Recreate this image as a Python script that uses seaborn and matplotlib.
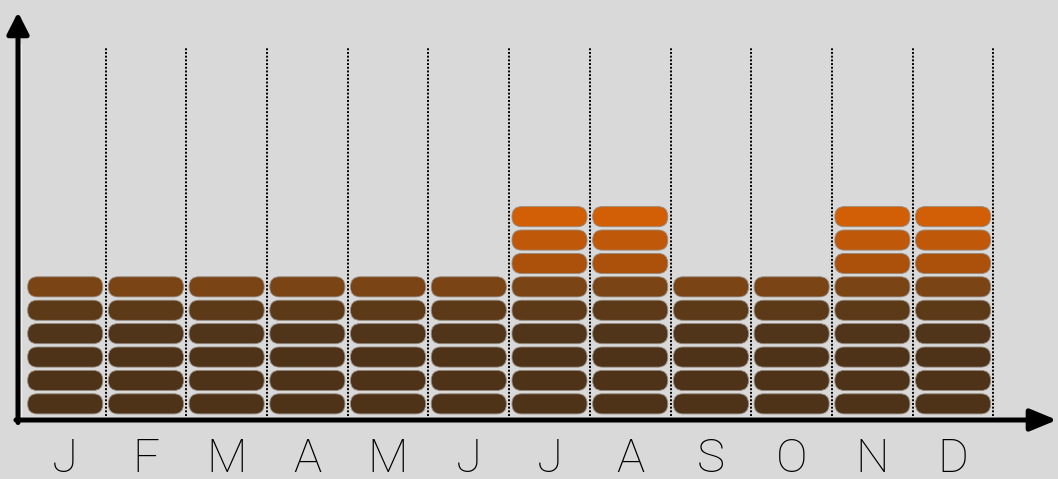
import matplotlib
matplotlib.use("Agg")
import matplotlib.pyplot as plt
from matplotlib.patches import FancyBboxPatch
import seaborn as sns

# --- dados ---
meses = ["J", "F", "M", "A", "M", "J", "J", "A", "S", "O", "N", "D"]
base = [6, 6, 6, 6, 6, 6, 6, 6, 6, 6, 6, 6]
extra = [0, 0, 0, 0, 0, 0, 3, 3, 0, 0, 3, 3]

# cores por nível (de baixo para cima)
cores_base = sns.color_palette(["#4e3318", "#4e3318", "#4f3318", "#51351a", "#5c3a18", "#7a4414"])
cores_extra = sns.color_palette(["#ac510c", "#c0580a", "#d25e06"])

sns.set_theme(style="white", rc={"figure.facecolor": "#d9d9d9", "axes.facecolor": "#d9d9d9"})
plt.rcParams["font.family"] = ["Roboto", "DejaVu Sans"]

W, H = 1058, 479
fig = plt.figure(figsize=(W / 100, H / 100), dpi=100)
ax_l, ax_b, ax_w, ax_h = 18 / W, (H - 420) / H, (W - 18) / W, 420 / H
ax = fig.add_axes([ax_l, ax_b, ax_w, ax_h])

xmin, xmax = -0.585, 12.3
ymin, ymax = -0.19, 17.76
ax.set_xlim(xmin, xmax)
ax.set_ylim(ymin, ymax)
sns.despine(ax=ax, left=True, bottom=True)
ax.set_xticks([])
ax.set_yticks([])

# proporção pixel x / pixel y para arredondar as pílulas
px_x = W * ax_w / (xmax - xmin)
px_y = H * ax_h / (ymax - ymin)
aspecto = px_x / px_y

larg, alt = 0.93, 0.86

# linhas pontilhadas entre colunas
ax.vlines([i + 0.5 for i in range(len(meses))], 0, 15.7, colors="black",
          linestyles=(0, (1, 0.9)), linewidth=1.4, zorder=1)

# borda clara interna
ax.plot([xmin + 0.04, xmin + 0.04], [ymin + 0.12, 15.9], color="#eeeeee", lw=1, zorder=0.5)
ax.plot([xmin + 0.04, 11.55], [ymin + 0.12, ymin + 0.12], color="#eeeeee", lw=1, zorder=0.5)

for i, mes in enumerate(meses):
    cores = list(cores_base[:base[i]]) + list(cores_extra[:extra[i]])
    for k, c in enumerate(cores):
        p = FancyBboxPatch((i - larg / 2, k + 0.07), larg, alt,
                           boxstyle="round,pad=0,rounding_size=0.12",
                           mutation_aspect=aspecto, facecolor=c,
                           edgecolor="#958a80", linewidth=0.6, zorder=2)
        ax.add_patch(p)
    ax.text(i, -1.85, mes, ha="center", va="center", fontsize=34,
            fontweight="light", color="black", clip_on=False)

# eixos com setas
ax.annotate("", xy=(0, 0.971), xytext=(0, -0.006), xycoords="axes fraction",
            arrowprops=dict(arrowstyle="-|>,head_length=0.65,head_width=0.33",
                            lw=3.6, color="black", mutation_scale=20,
                            shrinkA=0, shrinkB=0))
ax.annotate("", xy=(0.999, 0), xytext=(-0.002, 0), xycoords="axes fraction",
            arrowprops=dict(arrowstyle="-|>,head_length=0.8,head_width=0.33",
                            lw=3.6, color="black", mutation_scale=20,
                            shrinkA=0, shrinkB=0))

fig.savefig("out.png", dpi=100, facecolor=fig.get_facecolor())
